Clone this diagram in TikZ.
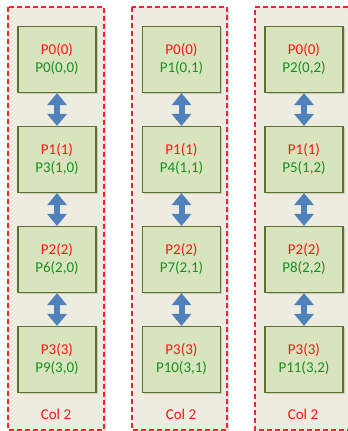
\documentclass[tikz,border=0pt]{standalone}
\usepackage{fontspec}
\setmainfont{Carlito}
\usetikzlibrary{arrows.meta,shadows}
\definecolor{panelbg}{RGB}{238,236,225}
\definecolor{boxfill}{RGB}{215,228,189}
\definecolor{boxdraw}{RGB}{94,114,48}
\definecolor{arrowblue}{RGB}{79,129,189}
\definecolor{txtred}{RGB}{255,20,20}
\definecolor{txtgreen}{RGB}{20,145,30}
\definecolor{dashred}{RGB}{240,40,40}
\tikzset{
  panel/.style={draw=dashred, fill=panelbg, line width=1.1pt, dash pattern=on 5pt off 3pt,
    drop shadow={shadow xshift=1.5pt, shadow yshift=-1.5pt, opacity=0.25}},
  panelfill/.style={fill=panelbg,
    drop shadow={shadow xshift=1.5pt, shadow yshift=-1.5pt, opacity=0.25}},
  paneledge/.style={draw=dashred, line width=1.1pt, dash pattern=on 5pt off 3pt},
  pbox/.style={draw=boxdraw, fill=boxfill, line width=1.1pt, minimum width=78pt, minimum height=66pt,
    inner sep=0pt, align=center, font=\fontsize{15}{18}\selectfont,
    drop shadow={shadow xshift=1.5pt, shadow yshift=-1.5pt, opacity=0.3}},
  dblarrow/.style={draw=arrowblue, line width=6pt,
    {Triangle[width=19pt,length=12pt]}-{Triangle[width=19pt,length=12pt]}},
  collabel/.style={text=txtred, font=\fontsize{15}{18}\selectfont, inner sep=0pt}
}
\newcommand{\plabel}[2]{\textcolor{txtred}{#1}\\\textcolor{txtgreen}{#2}}
\begin{document}
\begin{tikzpicture}[x=1pt,y=-1pt]
\useasboundingbox (0,0) rectangle (348,431);
% panels
\path[panel] (8,7) rectangle (104,430);
\path[panel] (132,7) rectangle (227,430);
\path[panelfill] (255,7) rectangle (348,430);
\draw[paneledge] (348,7) -- (255,7) -- (255,430) -- (348,430);
% column 1
\node[pbox] (a0) at (57,59.5) {\plabel{P0(0)}{P0(0,0)}};
\node[pbox] (a1) at (57,159.5) {\plabel{P1(1)}{P3(1,0)}};
\node[pbox] (a2) at (57,259.5) {\plabel{P2(2)}{P6(2,0)}};
\node[pbox] (a3) at (57,359.5) {\plabel{P3(3)}{P9(3,0)}};
% column 2
\node[pbox] (b0) at (181.5,59.5) {\plabel{P0(0)}{P1(0,1)}};
\node[pbox] (b1) at (181.5,159.5) {\plabel{P1(1)}{P4(1,1)}};
\node[pbox] (b2) at (181.5,259.5) {\plabel{P2(2)}{P7(2,1)}};
\node[pbox] (b3) at (181.5,359.5) {\plabel{P3(3)}{P10(3,1)}};
% column 3
\node[pbox] (c0) at (304,59.5) {\plabel{P0(0)}{P2(0,2)}};
\node[pbox] (c1) at (304,159.5) {\plabel{P1(1)}{P5(1,2)}};
\node[pbox] (c2) at (304,259.5) {\plabel{P2(2)}{P8(2,2)}};
\node[pbox] (c3) at (304,359.5) {\plabel{P3(3)}{P11(3,2)}};
% arrows
\foreach \c in {a,b,c}{
  \draw[dblarrow] (\c0.south) -- (\c1.north);
  \draw[dblarrow] (\c1.south) -- (\c2.north);
  \draw[dblarrow] (\c2.south) -- (\c3.north);
}
% labels
\node[collabel] (la) at (56,414) {Col 2};
\node[collabel] (lb) at (181,414) {Col 2};
\node[collabel] (lc) at (303,414) {Col 2};
\end{tikzpicture}
\end{document}
